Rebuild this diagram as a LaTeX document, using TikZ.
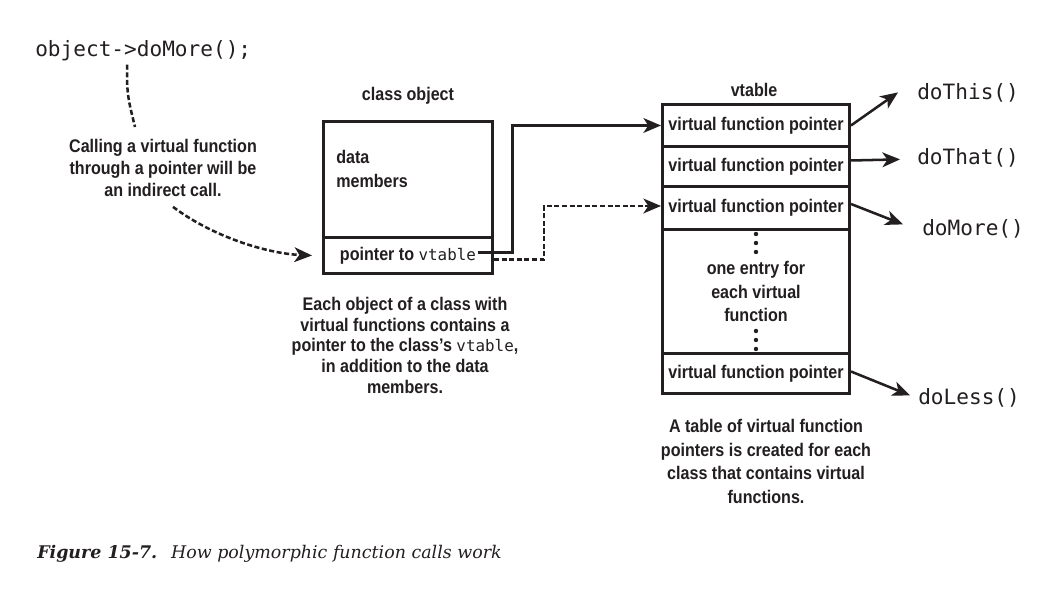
\documentclass[tikz,border=0pt]{standalone}
\usepackage{fontspec}
\setmainfont{Liberation Sans}
\newfontfamily\condfont[FakeStretch=0.88]{Liberation Sans}
\newfontfamily\codefont{DejaVu Sans Mono}
\newfontfamily\capfont{DejaVu Serif}
\usepackage{xcolor}
\usepackage{tikz}
\usetikzlibrary{arrows.meta}
\definecolor{ink}{HTML}{231F20}
\newlength\pxl
\setlength\pxl{0.025cm}
\newcommand\notefont[1]{\condfont\bfseries\fontsize{13}{#1}\selectfont}
\newcommand\vt{{\codefont\mdseries\fontsize{11.3}{13}\selectfont vtable}}
\tikzset{
  box/.style={draw=ink, line width=2.1pt, inner sep=0pt, anchor=north west},
  desc/.style={text=ink, font=\notefont{15.6}, align=center, inner sep=0pt},
  vfcell/.style={box, desc, minimum width=187\pxl},
  code/.style={text=ink, font=\codefont\fontsize{15}{18}\selectfont, inner sep=0pt, anchor=base west},
  link/.style={draw=ink, line width=1.8pt, line join=miter, -{Stealth[length=12.5pt,width=10.5pt,inset=3.5pt]}},
  dashlink/.style={link, dash pattern=on 3.6pt off 1.8pt},
  dashline/.style={draw=ink, line width=1.8pt, dash pattern=on 3.6pt off 1.8pt},
}

\begin{document}
\begin{tikzpicture}[x=0.025cm, y=-0.025cm]
  \fill[white] (0,0) rectangle (1064,594);
  \useasboundingbox (0,0) rectangle (1064,594);

  % the call and its note
  \node[code] (callcode) at (35,56) {object->doMore();};
  \node[desc, anchor=north] (callnote) at (163,139) {Calling a virtual function\\through a pointer will be\\an indirect call.};

  % class object
  \node[desc, anchor=base] (objlabel) at (408,100) {class object};
  \node[box, minimum width=169\pxl, minimum height=116\pxl] (objdata) at (322,120) {};
  \node[desc, align=left, anchor=north west, font=\notefont{17}] (datatext) at (336,150) {data\\members};
  \node[box, minimum width=169\pxl, minimum height=36\pxl] (objptr) at (322,236) {};
  \node[desc, inner sep=1pt] (ptrtext) at (objptr.center) {pointer to \vt};
  \node[desc, anchor=north, font=\notefont{14.7}] (objnote) at (405,297) {Each object of a class with\\virtual functions contains a\\pointer to the class’s \vt,\\in addition to the data\\members.};

  % vtable
  \node[desc, anchor=base] (vtlabel) at (754,96) {vtable};
  \node[vfcell, minimum height=42\pxl] (vf1) at (661,103) {virtual function pointer};
  \node[vfcell, minimum height=40\pxl] (vf2) at (661,145) {virtual function pointer};
  \node[vfcell, minimum height=43\pxl] (vf3) at (661,185) {virtual function pointer};
  \node[box, minimum width=187\pxl, minimum height=124\pxl] (entries) at (661,228) {};
  \node[desc, font=\notefont{16.7}] (entrytext) at (entries.center) {one entry for\\each virtual\\function};
  \node[vfcell, minimum height=40\pxl] (vf4) at (661,352) {virtual function pointer};
  \foreach \d in {6,15,24} {
    \fill[ink] ([yshift=-\d\pxl]entries.north) circle (2.2\pxl);
    \fill[ink] ([yshift=\d\pxl]entries.south) circle (2.2\pxl);
  }
  \node[desc, anchor=north, font=\notefont{16.8}] (vtnote) at (766,419) {A table of virtual function\\pointers is created for each\\class that contains virtual\\functions.};

  % the functions
  \node[code] (fthis) at (917,99) {doThis()};
  \node[code] (fthat) at (917,164) {doThat()};
  \node[code] (fmore) at (922,235) {doMore()};
  \node[code] (fless) at (918,404) {doLess()};

  % connectors
  \draw[dashline] ([xshift=-16\pxl,yshift=-4\pxl]callcode.south) .. controls +(-1,30) and +(-6,-25) .. ([xshift=-28\pxl,yshift=12\pxl]callnote.north);
  \draw[dashlink] ([xshift=10\pxl,yshift=-10\pxl]callnote.south) .. controls +(40,30) and +(-45,-2) .. ([xshift=-10\pxl]objptr.west);
  \draw[link] ([yshift=3\pxl]ptrtext.east) -- ++(35,0) |- (vf1.west);
  \draw[dashlink] ([yshift=-4\pxl]objptr.east) -- ++(50,0) |- ([yshift=2\pxl]vf3.west);
  \draw[link] (vf1.east) -- ([xshift=-19\pxl]fthis.west);
  \draw[link] ([yshift=6\pxl]vf2.east) -- ([xshift=-17\pxl,yshift=-2\pxl]fthat.west);
  \draw[link] ([yshift=4\pxl]vf3.east) -- ([xshift=-19\pxl,yshift=4\pxl]fmore.west);
  \draw[link] ([yshift=2\pxl]vf4.east) -- ([xshift=-8\pxl,yshift=2\pxl]fless.west);

  % caption
  \node[anchor=base west, inner sep=0pt, text=ink, font=\capfont\fontsize{12.4}{14}\selectfont] (caption) at (37,558) {\textbf{\textit{Figure 15-7.}}\hspace{0.8em}\textit{How polymorphic function calls work}};
\end{tikzpicture}
\end{document}
